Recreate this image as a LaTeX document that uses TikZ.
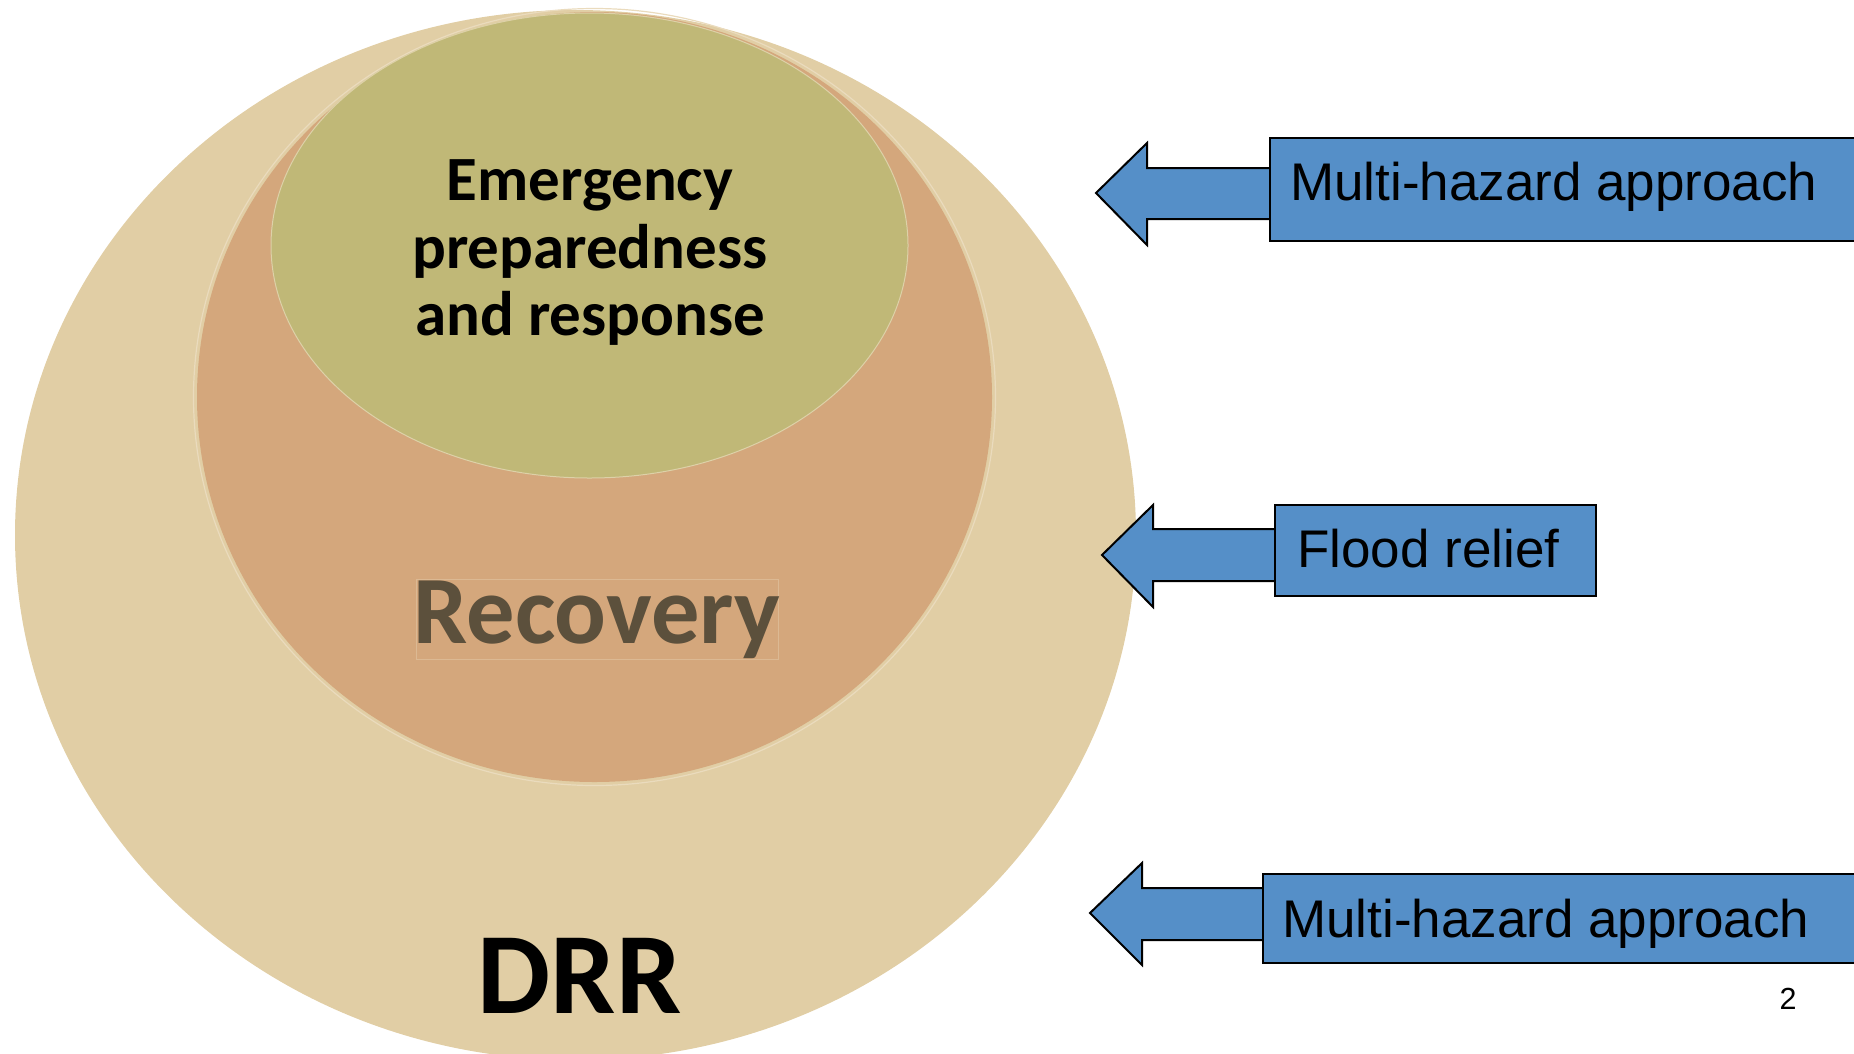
\documentclass[tikz,border=0pt]{standalone}
\usepackage{fontspec}
\setmainfont{Liberation Sans}
\newfontfamily\calib{Carlito}
\definecolor{drrfill}{HTML}{E1CEA5}
\definecolor{recfill}{HTML}{D4A77C}
\definecolor{emfill}{HTML}{C0B877}
\definecolor{arrowblue}{HTML}{558FC8}
\definecolor{rectext}{HTML}{5C503C}
\definecolor{faintline}{HTML}{EADBBD}
\begin{document}
\begin{tikzpicture}[x=1pt,y=-1pt,
  blk/.style={draw=black,line width=2pt,fill=arrowblue,line join=miter},
  boxst/.style={blk,rectangle,inner sep=0pt,anchor=north west},
  lab/.style={font=\fontsize{53}{60}\selectfont,anchor=base west,inner sep=0pt,text=black},
  cal/.style={font=\calib\bfseries,inner sep=0pt},
]
\useasboundingbox (0,0) rectangle (1854,1053);
\begin{scope}
\clip (0,0) rectangle (1854,1053);
% outer DRR ellipse
\fill[drrfill] (575.5,535) ellipse [x radius=560.5pt, y radius=525pt];
% recovery ellipse
\fill[recfill] (594.5,397) ellipse [x radius=397.5pt, y radius=385pt];
\draw[faintline,line width=1.2pt] (594.5,397) ellipse [x radius=401pt, y radius=388.5pt];
% emergency ellipse
\fill[emfill] (589.5,245.5) ellipse [x radius=318.5pt, y radius=232.5pt];
\draw[faintline!70!emfill,line width=1pt] (589.5,245.5) ellipse [x radius=318.5pt, y radius=232.5pt];
\end{scope}

% texts in the ellipses
\node[cal,align=center,font=\calib\bfseries\fontsize{63}{67.5}\selectfont] (em) at (590,253)
  {Emergency\\preparedness\\and response};
\node[draw=faintline!35!recfill,line width=0.8pt,minimum width=362pt,minimum height=80pt,anchor=south west,inner sep=0pt] (recbox) at (416,660) {};
\node[cal,anchor=base,text=rectext,font=\calib\bfseries\fontsize{96.5}{100}\selectfont] (rec) at (597,643) {Recovery};
\node[cal,anchor=base,text=black,font=\calib\bfseries\fontsize{116}{120}\selectfont] (drr) at (579.5,1013) {DRR};

% top arrow
\coordinate (t1) at (1096,193);
\draw[blk] (t1) -- (1147,143) -- (1147,168) -- (1275,168) -- (1275,219) -- (1147,219) -- (1147,245) -- cycle;
\node[boxst,minimum width=601pt,minimum height=103pt] (b1) at (1269,137) {};
\node[lab] (l1) at (1290,200) {Multi-hazard approach};

% middle arrow
\coordinate (t2) at (1102,555);
\draw[blk] (t2) -- (1153,505) -- (1153,529) -- (1280,529) -- (1280,581) -- (1153,581) -- (1153,607) -- cycle;
\node[boxst,minimum width=321pt,minimum height=91pt] (b2) at (1274,504) {};
\node[lab] (l2) at (1297,567) {Flood relief};

% bottom arrow
\coordinate (t3) at (1090,913);
\draw[blk] (t3) -- (1142,863) -- (1142,888) -- (1268,888) -- (1268,940) -- (1142,940) -- (1142,965) -- cycle;
\node[boxst,minimum width=608pt,minimum height=89pt] (b3) at (1262,873) {};
\node[lab] (l3) at (1282,937) {Multi-hazard approach};

% page number
\node[anchor=base,inner sep=0pt,font=\fontsize{30.5}{34}\selectfont] (pg) at (1788,1009) {2};
\end{tikzpicture}
\end{document}
